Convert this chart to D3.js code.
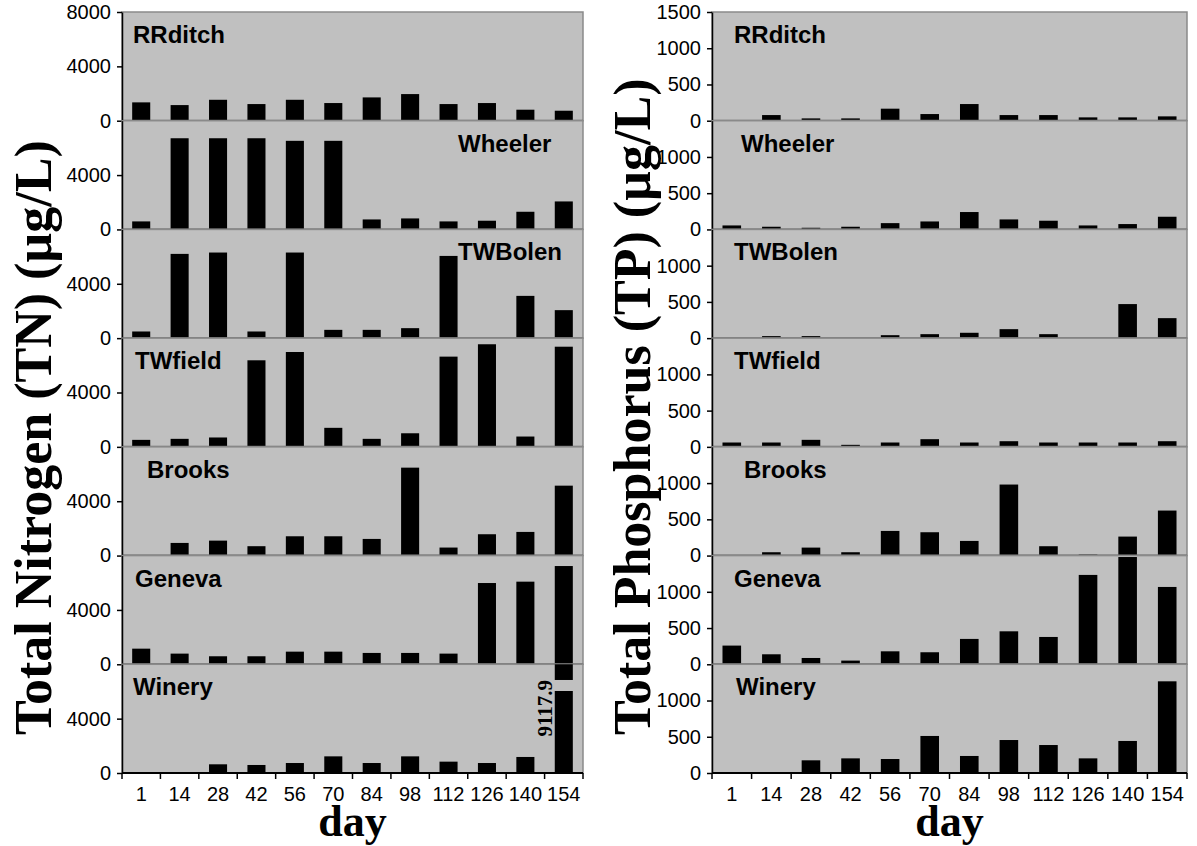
<!DOCTYPE html>
<html>
<head>
<meta charset="UTF-8">
<title>TN and TP by site</title>
<style>
  body { margin: 0; background: #fff; }
  .tick text { font-family: "Liberation Sans", Arial, sans-serif; font-size: 20px; fill: #000; }
  .site { font-family: "Liberation Sans", Arial, sans-serif; font-size: 24px; font-weight: bold; }
  .title { font-family: "Liberation Serif", "Times New Roman", serif; font-weight: bold; }
</style>
</head>
<body>
<div id="chart"></div>
<script src="https://cdnjs.cloudflare.com/ajax/libs/d3/7.8.5/d3.min.js"></script>
<script>
const days = ["1", "14", "28", "42", "56", "70", "84", "98", "112", "126", "140", "154"];
const sites = ["RRditch", "Wheeler", "TWBolen", "TWfield", "Brooks", "Geneva", "Winery"];

// total nitrogen, ug/L (null = no sample)
const tnRRditch = [1350, 1150, 1540, 1225, 1540, 1300, 1715, 1960, 1225, 1300, 810, 735];
const tnWheeler = [590, 6710, 6710, 6710, 6520, 6520, 735, 810, 590, 640, 1300, 2060];
const tnTWBolen = [490, 6200, 6300, 490, 6300, 610, 610, 735, 6050, null, 3110, 2060];
const tnTWfield = [515, 590, 690, 6370, 6980, 1400, 590, 1000, 6640, 7550, 760, 7370];
const tnBrooks = [null, 930, 1100, 690, 1420, 1420, 1225, 6470, 590, 1570, 1740, 5145];
const tnGeneva = [1150, 785, 590, 590, 930, 930, 835, 835, 785, 5980, 6080, 7230];
const tnWinery = [null, null, 640, 590, 735, 1225, 735, 1225, 835, 735, 1180, 9117.9];

// total phosphorus, ug/L
const tpRRditch = [null, 78, 32, 32, 166, 92, 230, 78, 78, 46, 46, 60];
const tpWheeler = [55, 37, 23, 37, 87, 110, 240, 138, 120, 55, 74, 175];
const tpTWBolen = [null, 28, 28, null, 41, 55, 74, 124, 55, null, 470, 276];
const tpTWfield = [60, 60, 97, 28, 60, 106, 60, 78, 60, 60, 60, 78];
const tpBrooks = [null, 46, 110, 46, 340, 322, 202, 980, 129, 14, 262, 621];
const tpGeneva = [258, 138, 87, 51, 179, 166, 350, 455, 377, 1233, 1480, 1067];
const tpWinery = [null, null, 175, 202, 193, 511, 235, 455, 386, 202, 442, 1265];

const tnTicks = [0, 4000], tnTopTicks = [0, 4000, 8000];
const tpTicks = [0, 500, 1000], tpTopTicks = [0, 500, 1000, 1500];

const tnSeries = [tnRRditch, tnWheeler, tnTWBolen, tnTWfield, tnBrooks, tnGeneva, tnWinery];
const tpSeries = [tpRRditch, tpWheeler, tpTWBolen, tpTWfield, tpBrooks, tpGeneva, tpWinery];

// where each site name sits, offset from the plot's left edge
const tnLabelPos = [11, 336, 336, 13, 25, 13, 11];
const tpLabelPos = [22, 29, 22, 22, 32, 22, 24];

const W = 1197, H = 846, plotTop = 12, plotBottom = 773;
const panelH = (plotBottom - plotTop) / sites.length;

const svg = d3.select('#chart').append('svg')
  .attr('width', W).attr('height', H);

function drawChart(cfg) {
  const g = svg.append('g');
  const x = d3.scaleBand().domain(days)
    .range([cfg.x0, cfg.x1]).paddingInner(0.53).paddingOuter(0.265);

  sites.forEach((site, i) => {
    const pTop = plotTop + i * panelH, pBot = pTop + panelH;
    const y = d3.scaleLinear().domain([0, cfg.max]).range([pBot, pTop]);
    const vals = cfg.series[i];

    g.append('rect')
      .attr('x', cfg.x0).attr('y', pTop)
      .attr('width', cfg.x1 - cfg.x0).attr('height', panelH)
      .attr('fill', '#c0c0c0').attr('stroke', '#8a8a8a').attr('stroke-width', 1.5);

    const rows = days.map((d, j) => ({ day: d, v: vals[j] })).filter(r => r.v != null);

    g.selectAll(null).data(rows).enter().append('rect')
      .attr('x', r => x(r.day))
      .attr('width', x.bandwidth())
      .attr('y', r => y(Math.min(r.v, cfg.max)))
      .attr('height', r => pBot - y(Math.min(r.v, cfg.max)))
      .attr('fill', '#000');

    // broken bar for off-scale value
    rows.filter(r => r.v > cfg.max).forEach(r => {
      g.append('rect')
        .attr('x', x(r.day) - 1).attr('width', x.bandwidth() + 2)
        .attr('y', y(cfg.breakHi)).attr('height', y(cfg.breakLo) - y(cfg.breakHi))
        .attr('fill', '#c0c0c0');
      g.append('text')
        .attr('class', 'title')
        .attr('transform', `translate(${x(r.day) - 3},${y(cfg.breakHi)}) rotate(-90)`)
        .attr('text-anchor', 'end')
        .style('font-size', '21px')
        .text(d3.format('.1f')(r.v));
    });

    // baseline
    g.append('line')
      .attr('x1', cfg.x0).attr('x2', cfg.x1)
      .attr('y1', pBot).attr('y2', pBot)
      .attr('stroke', i === sites.length - 1 ? '#000' : '#6e6e6e')
      .attr('stroke-width', 2);

    const axis = d3.axisLeft(y)
      .tickValues(i === 0 ? cfg.topTicks : cfg.ticks)
      .tickFormat(d3.format('d'))
      .tickSizeInner(5).tickSizeOuter(0).tickPadding(6);
    const ax = g.append('g').attr('transform', `translate(${cfg.x0},0)`).call(axis);
    ax.select('.domain').attr('stroke', '#000').attr('stroke-width', 1.5);
    ax.selectAll('.tick line').attr('stroke', '#000').attr('stroke-width', 1.5);

    g.append('text').attr('class', 'site')
      .attr('x', cfg.x0 + cfg.labelPos[i]).attr('y', pTop + 31)
      .text(site);
  });

  // x axis under the last panel
  const xa = g.append('g').attr('transform', `translate(0,${plotBottom})`)
    .call(d3.axisBottom(x).tickSize(0).tickPadding(14));
  xa.select('.domain').remove();
  const edges = d3.range(days.length + 1).map(k => cfg.x0 + k * x.step());
  g.selectAll(null).data(edges).enter().append('line')
    .attr('x1', d => d).attr('x2', d => d)
    .attr('y1', plotBottom).attr('y2', plotBottom + 6)
    .attr('stroke', '#000').attr('stroke-width', 1.5);

  svg.append('text').attr('class', 'title')
    .attr('x', (cfg.x0 + cfg.x1) / 2).attr('y', 836)
    .attr('text-anchor', 'middle')
    .style('font-size', '44px')
    .text('day');

  svg.append('text').attr('class', 'title')
    .attr('transform', `translate(${cfg.titleX},735) rotate(-90)`)
    .style('font-size', '52px')
    .text(cfg.title);
}

drawChart({
  x0: 122, x1: 583, max: 8000, ticks: tnTicks, topTicks: tnTopTicks,
  series: tnSeries, labelPos: tnLabelPos, breakLo: 6035, breakHi: 6845,
  title: 'Total Nitrogen (TN) (µg/L)', titleX: 51
});
drawChart({
  x0: 712, x1: 1187, max: 1500, ticks: tpTicks, topTicks: tpTopTicks,
  series: tpSeries, labelPos: tpLabelPos, breakLo: 1130, breakHi: 1280,
  title: 'Total Phosphorus (TP) (µg/L)', titleX: 650
});
</script>
</body>
</html>
